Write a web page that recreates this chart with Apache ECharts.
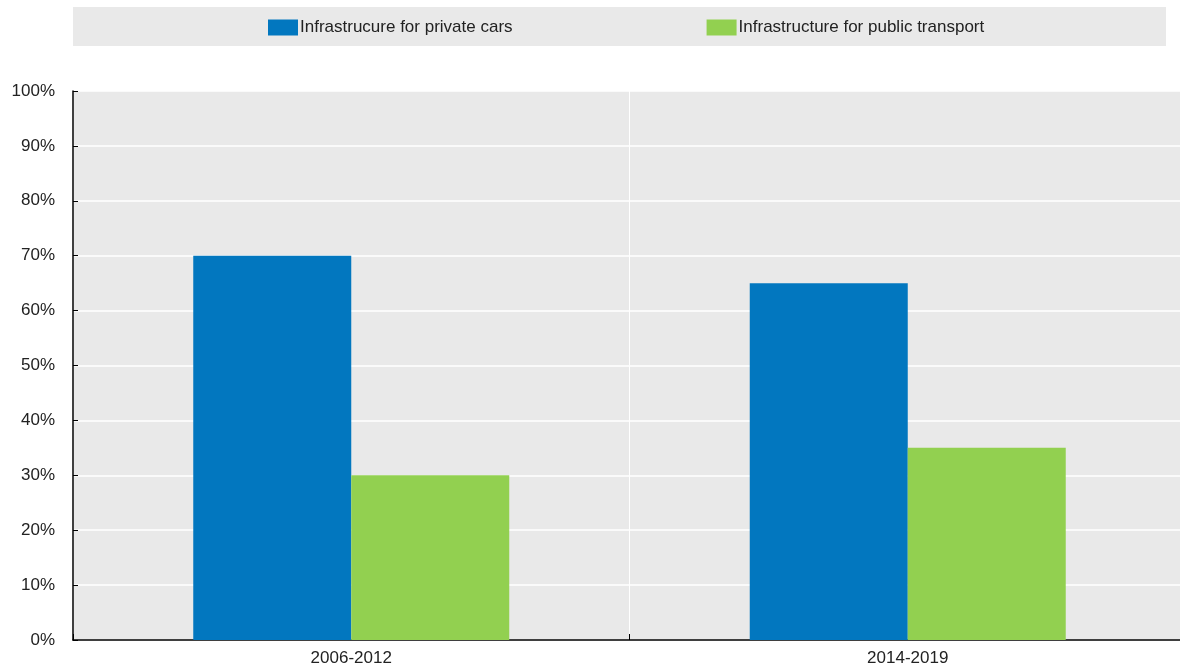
<!DOCTYPE html>
<html>
<head>
<meta charset="utf-8">
<script src="https://cdn.jsdelivr.net/npm/echarts@6/dist/echarts.min.js"></script>
<style>
  html, body { margin: 0; padding: 0; background: #fff; }
  #chart { width: 1180px; height: 667px; }
</style>
</head>
<body>
<div id="chart"></div>
<script>
const periods = ['2006-2012', '2014-2019'];
const privateCars = [70, 65];
const publicTransport = [30, 35];
const seriesNames = ['Infrastrucure for private cars', 'Infrastructure for public transport'];

const font = '"Liberation Sans", Arial, sans-serif';

var chart = echarts.init(document.getElementById('chart'));
chart.setOption({
  animation: false,
  backgroundColor: '#fff',
  textStyle: { fontFamily: font },
  graphic: [{
    type: 'rect',
    shape: { x: 73, y: 7, width: 1093, height: 39 },
    style: { fill: '#e9e9e9' },
    z: -1
  }],
  legend: {
    top: 14,
    left: 263,
    itemWidth: 30,
    itemHeight: 16,
    itemGap: 194,
    icon: 'rect',
    textStyle: { fontFamily: font, fontSize: 17, color: '#222', padding: [0, 0, 0, -3] },
    data: seriesNames
  },
  grid: {
    left: 73, width: 1113, top: 91, bottom: 27,
    outerBoundsMode: 'none',
    backgroundColor: '#e9e9e9', show: true, borderWidth: 0
  },
  xAxis: {
    type: 'category',
    data: periods,
    axisLine: { lineStyle: { color: '#000', width: 1.5 } },
    axisTick: { show: true, inside: true, length: 6, lineStyle: { color: '#000' } },
    axisLabel: { color: '#222', fontSize: 17, fontFamily: font, margin: 10 },
    splitLine: { show: true, lineStyle: { color: '#fff', width: 1 } }
  },
  yAxis: {
    type: 'value',
    min: 0,
    max: 100,
    interval: 10,
    axisLine: { show: true, lineStyle: { color: '#000', width: 1.5 } },
    axisTick: { show: true, inside: true, length: 5, lineStyle: { color: '#000' } },
    axisLabel: { color: '#222', fontSize: 17, fontFamily: font, margin: 18, formatter: '{value}%' },
    splitLine: { show: true, lineStyle: { color: '#fff', width: 1.5 } }
  },
  series: [{
    name: seriesNames[0],
    type: 'bar',
    data: privateCars,
    barWidth: 158,
    barGap: '0%',
    itemStyle: { color: '#0277bf' }
  }, {
    name: seriesNames[1],
    type: 'bar',
    data: publicTransport,
    barWidth: 158,
    barGap: '0%',
    itemStyle: { color: '#92d050' }
  }]
});
</script>
</body>
</html>
